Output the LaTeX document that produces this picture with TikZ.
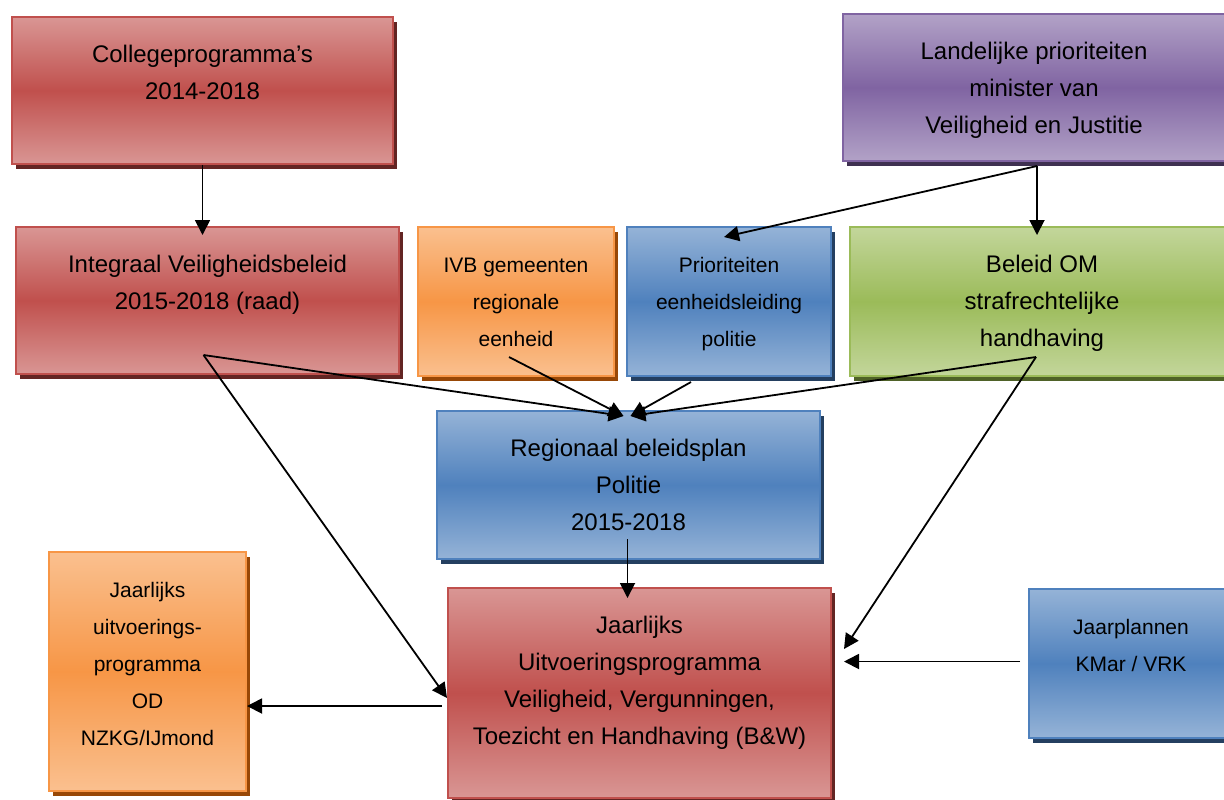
\documentclass[tikz,border=0pt]{standalone}
\usepackage{fontspec}
\setmainfont{Liberation Sans}
\usetikzlibrary{arrows.meta}
\usetikzlibrary{shadows}
\usetikzlibrary{calc}

\definecolor{redmid}{HTML}{C0504D}
\definecolor{redlight}{HTML}{D99694}
\definecolor{reddark}{HTML}{632523}
\definecolor{bluemid}{HTML}{4F81BD}
\definecolor{bluelight}{HTML}{95B3D7}
\definecolor{bluedark}{HTML}{243F60}
\definecolor{orangemid}{HTML}{F79646}
\definecolor{orangelight}{HTML}{FAC08F}
\definecolor{orangedark}{HTML}{984807}
\definecolor{greenmid}{HTML}{9BBB59}
\definecolor{greenlight}{HTML}{C3D69B}
\definecolor{greendark}{HTML}{4F6228}
\definecolor{purplemid}{HTML}{8064A2}
\definecolor{purplelight}{HTML}{B2A2C7}
\definecolor{purpledark}{HTML}{3F3151}

\tikzstyle{box} = [rectangle, anchor=north west, inner sep=0pt, align=center, line width=1pt, font=\fontsize{12}{18.5}\selectfont]
\tikzstyle{small} = [font=\fontsize{10.5}{18.5}\selectfont]
\tikzstyle{redbox} = [top color=redlight, bottom color=redlight, middle color=redmid, draw=redmid, drop shadow={shadow xshift=2pt, shadow yshift=-2.5pt, fill=reddark, opacity=1}]
\tikzstyle{bluebox} = [top color=bluelight, bottom color=bluelight, middle color=bluemid, draw=bluemid, drop shadow={shadow xshift=2pt, shadow yshift=-2.5pt, fill=bluedark, opacity=1}]
\tikzstyle{orangebox} = [top color=orangelight, bottom color=orangelight, middle color=orangemid, draw=orangemid, drop shadow={shadow xshift=2pt, shadow yshift=-2.5pt, fill=orangedark, opacity=1}]
\tikzstyle{greenbox} = [top color=greenlight, bottom color=greenlight, middle color=greenmid, draw=greenmid, drop shadow={shadow xshift=2pt, shadow yshift=-2.5pt, fill=greendark, opacity=1}]
\tikzstyle{purplebox} = [top color=purplelight, bottom color=purplelight, middle color=purplemid, draw=purplemid, drop shadow={shadow xshift=2pt, shadow yshift=-2.5pt, fill=purpledark, opacity=1}]
\tikzstyle{arrow} = [line width=0.9pt, ->, >={Triangle[length=7.5pt,width=7.5pt]}]

\begin{document}
\begin{tikzpicture}[x=0.5pt, y=-0.5pt]
\useasboundingbox (0,0) rectangle (1224,799);

\node (college) [box, redbox, minimum width=190.5pt, text height=41pt, text depth=32.5pt] at (11,16) {Collegeprogramma’s\\2014-2018};
\node (landelijk) [box, purplebox, minimum width=191pt, text height=59.5pt, text depth=14pt] at (842,13) {Landelijke prioriteiten\\minister van\\Veiligheid en Justitie};
\node (integraal) [box, redbox, minimum width=191.5pt, text height=41pt, text depth=32.5pt] at (15,226) {Integraal Veiligheidsbeleid\\2015-2018 (raad)};
\node (ivb) [box, small, orangebox, minimum width=98pt, text height=59.5pt, text depth=15pt] at (417,226) {IVB gemeenten\\regionale\\eenheid};
\node (prioriteiten) [box, small, bluebox, minimum width=102pt, text height=59.5pt, text depth=15pt] at (626,226) {Prioriteiten\\eenheidsleiding\\politie};
\node (beleidom) [box, greenbox, minimum width=192pt, text height=59.5pt, text depth=15pt] at (849,226) {Beleid OM\\strafrechtelijke\\handhaving};
\node (regionaal) [box, bluebox, minimum width=191.5pt, text height=59.5pt, text depth=14.5pt] at (436,410) {Regionaal beleidsplan\\Politie\\2015-2018};
\node (uitvoering) [box, redbox, minimum width=191.5pt, text height=78pt, text depth=27pt] at (447,587) {Jaarlijks\\Uitvoeringsprogramma\\Veiligheid, Vergunningen,\\Toezicht en Handhaving (B\&W)};
\node (od) [box, small, orangebox, minimum width=98.5pt, text height=96.5pt, text depth=23pt] at (48,551) {Jaarlijks\\uitvoerings-\\programma\\OD\\NZKG/IJmond};
\node (jaarplannen) [box, small, bluebox, minimum width=102pt, text height=41pt, text depth=33.5pt] at (1028,588) {Jaarplannen\\KMar / VRK};

% start and end points of the connectors
\coordinate (lsplit) at ($(landelijk.south)+(3,4)$);
\coordinate (isplit) at ($(integraal.south)+(-4,-20)$);
\coordinate (bsplit) at ($(beleidom.south)+(-6,-20)$);
\coordinate (rleft) at ($(regionaal.north)+(-5,6)$);
\coordinate (rright) at ($(regionaal.north)+(2,6)$);
\coordinate (jstart) at ($(jaarplannen.west)+(-8,-2)$);
\coordinate (ustart) at ($(uitvoering.west)+(-5,13)$);

\draw [arrow] (college.south) -- ($(college.south |- integraal.north)+(0,9)$);
\draw [arrow] (lsplit) -- ($(prioriteiten.north)+(-5,11)$);
\draw [arrow] (lsplit) -- ($(lsplit |- beleidom.north)+(0,9)$);
\draw [arrow] (isplit) -- (rleft);
\draw [arrow] (isplit) -- ($(uitvoering.west)+(0,5)$);
\draw [arrow] ($(ivb.south)+(-7,-20)$) -- (rleft);
\draw [arrow] ($(prioriteiten.south)+(-38,5)$) -- (rright);
\draw [arrow] (bsplit) -- (rright);
\draw [arrow] (bsplit) -- ($(uitvoering.east)+(12,-44)$);
\draw [arrow] ($(regionaal.south)+(-1,-21)$) -- ($(regionaal.south |- uitvoering.north)+(-1,11)$);
\draw [arrow] (jstart) -- ($(uitvoering.east |- jstart)+(12,0)$);
\draw [arrow] (ustart) -- (od.east |- ustart);

\end{tikzpicture}
\end{document}
